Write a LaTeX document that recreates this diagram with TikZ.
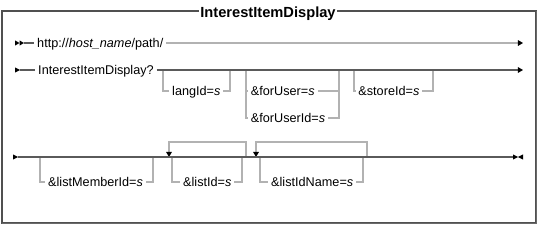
\documentclass[tikz,border=0pt]{standalone}
\usepackage{fontspec}
\setmainfont{Liberation Sans}
\usepackage{xcolor}
\definecolor{railgray}{RGB}{90,90,90}
\definecolor{branchgray}{RGB}{178,178,178}
\definecolor{framegray}{RGB}{80,80,80}
\usetikzlibrary{arrows.meta,positioning}

\begin{document}
\begin{tikzpicture}[x=0.75pt,y=-0.75pt,
fwd/.tip={Triangle[length=3.8pt,width=4.2pt,color=black]},
kw/.style={anchor=west,inner xsep=2pt,inner ysep=0pt,text height=6.8pt,text depth=0pt,font=\fontsize{9.5}{11}\selectfont},
title/.style={fill=white,inner xsep=1pt,inner ysep=0pt,text height=7.9pt,text depth=0pt,font=\fontsize{11}{13}\selectfont\bfseries},
rail/.style={draw=railgray,line width=0.8pt},
branch/.style={draw=branchgray,line width=0.9pt},
loopback/.style={branch,-{fwd[]}},
tipfill/.style={fill=black}]
\useasboundingbox (0,0) rectangle (538,225);
\draw[framegray,line width=0.8pt] (2,11) rectangle (536,223);
\draw[framegray!85,line width=1.2pt] (2,223.3) -- (536.3,223.3) -- (536.3,11);
\node[title] (ttl) at (268,12) {InterestItemDisplay};
\coordinate (s1) at (24,43); \coordinate (e1) at (523,43);
\node[kw] (url) at (34.3,43) {http://\textit{host\_name}/path/};
\fill[tipfill] (s1) ++(-9,-2.6) -- ++(4.5,2.6) -- ++(-4.5,2.6) -- cycle;
\fill[tipfill] (s1) ++(-4.5,-2.6) -- (s1) -- ++(-4.5,2.6) -- cycle;
\draw[rail] (s1) -- (url); \draw[branch,-{fwd[]}] (url) -- (e1);
\coordinate (s2) at (20,70); \coordinate (e2) at (523,70);
\node[kw] (iid) at (35.3,70) {InterestItemDisplay?};
\coordinate (lang1) at (163,70); \coordinate (lang2) at (230,70);
\node[kw] (lang) at (169.3,91) {langId=\textit{s}};
\coordinate (fu1) at (246,70); \coordinate (fu2) at (339,70);
\node[kw] (fuser) at (248,91) {\&forUser=\textit{s}};
\node[kw] (fuserid) at (248,118) {\&forUserId=\textit{s}};
\coordinate (st1) at (354,70); \coordinate (st2) at (433,70);
\node[kw] (store) at (355.5,91) {\&storeId=\textit{s}};
\draw[branch] (lang1) |- (lang) -| (lang2);
\draw[branch] (fu1) |- (fuserid) -| (fu2); \draw[branch] (fu1 |- fuser) -- (fuser) -- (fu2 |- fuser);
\draw[branch] (st1) |- (store) -| (st2);
\fill[tipfill] (s2) ++(-5,-2.6) -- (s2) -- ++(-5,2.6) -- cycle;
\draw[rail] (s2) -- (iid); \draw[rail,-{fwd[]}] (iid) -- (e2);
\coordinate (s3) at (18,157); \coordinate (e3) at (513,157);
\coordinate (lm1) at (40,157); \coordinate (lm2) at (153,157);
\node[kw] (lmid) at (45.3,182) {\&listMemberId=\textit{s}};
\coordinate (li1) at (172,157); \coordinate (li2) at (242,157);
\coordinate (lr1) at (169,157); \coordinate (lr2) at (246,157);
\node[kw] (lid) at (180.3,182) {\&listId=\textit{s}};
\coordinate (ln1) at (260,157); \coordinate (ln2) at (363,157);
\coordinate (nr1) at (256,157); \coordinate (nr2) at (367,157);
\node[kw] (lidn) at (268.3,182) {\&listIdName=\textit{s}};
\draw[branch] (lm1) |- (lmid) -| (lm2);
\draw[branch] (li1) |- (lid) -| (li2); \draw[loopback] (lr2) -- ++(0,-15) -| (lr1);
\draw[branch] (ln1) |- (lidn) -| (ln2); \draw[loopback] (nr2) -- ++(0,-15) -| (nr1);
\draw[rail] (s3) -- (e3);
\fill[tipfill] (s3) ++(-5,-2.6) -- (s3) -- ++(-5,2.6) -- cycle;
\fill[tipfill] (e3) ++(0,-2.6) -- ++(5,2.6) -- ++(-5,2.6) -- cycle;
\fill[tipfill] (e3) ++(10,-2.6) -- ++(-5,2.6) -- ++(5,2.6) -- cycle;
\end{tikzpicture}
\end{document}
